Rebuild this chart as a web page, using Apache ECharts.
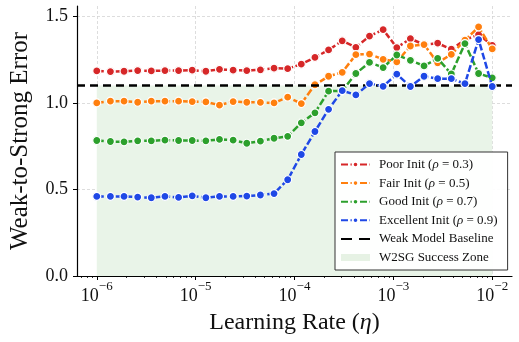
<!DOCTYPE html>
<html>
<head>
<meta charset="utf-8">
<script src="https://cdn.jsdelivr.net/npm/echarts@6/dist/echarts.min.js"></script>
<style>
html, body { margin: 0; padding: 0; background: #fff; }
#chart { width: 519px; height: 342px; }
</style>
</head>
<body>
<div id="chart"></div>
<script>
// 学习率（横轴，对数刻度）
var learningRates = [
    1.000e-6, 1.374e-6, 1.887e-6, 2.593e-6, 3.562e-6, 4.894e-6, 6.723e-6, 9.237e-6,
    1.269e-5, 1.743e-5, 2.395e-5, 3.290e-5, 4.520e-5, 6.210e-5, 8.532e-5,
    1.172e-4, 1.610e-4, 2.212e-4, 3.039e-4, 4.175e-4, 5.736e-4, 7.880e-4,
    1.083e-3, 1.487e-3, 2.043e-3, 2.807e-3, 3.857e-3, 5.298e-3, 7.279e-3, 1.000e-2
];
// 各初始化的误差
var poorInit = [
    1.185, 1.181, 1.183, 1.187, 1.185, 1.187, 1.187, 1.189, 1.183, 1.194,
    1.189, 1.187, 1.191, 1.201, 1.198, 1.224, 1.263, 1.306, 1.359, 1.321,
    1.386, 1.423, 1.320, 1.371, 1.337, 1.345, 1.310, 1.364, 1.395, 1.333
];
var fairInit = [
    1.000, 1.010, 1.010, 1.004, 1.010, 1.010, 1.010, 1.008, 1.006, 0.987,
    1.008, 1.004, 1.003, 1.000, 1.033, 0.996, 1.105, 1.154, 1.177, 1.279,
    1.282, 1.252, 1.237, 1.329, 1.337, 1.232, 1.280, 1.362, 1.439, 1.312
];
var goodInit = [
    0.783, 0.777, 0.775, 0.781, 0.781, 0.785, 0.783, 0.783, 0.781, 0.789,
    0.785, 0.767, 0.779, 0.796, 0.807, 0.885, 0.943, 1.068, 1.069, 1.170,
    1.234, 1.204, 1.277, 1.246, 1.214, 1.257, 1.167, 1.343, 1.170, 1.145
];
var excellentInit = [
    0.460, 0.460, 0.460, 0.456, 0.452, 0.460, 0.454, 0.463, 0.452, 0.460,
    0.460, 0.462, 0.468, 0.476, 0.556, 0.702, 0.835, 0.963, 1.071, 1.046,
    1.112, 1.096, 1.166, 1.095, 1.154, 1.140, 1.140, 1.111, 1.366, 1.095
];
var baseline = 1.1;
var seriesNames = [
    'Poor Init (ρ = 0.3)',
    'Fair Init (ρ = 0.5)',
    'Good Init (ρ = 0.7)',
    'Excellent Init (ρ = 0.9)'
];
var xTicks = [1e-6, 1e-5, 1e-4, 1e-3, 1e-2];
var yTicks = [0, 0.5, 1.0, 1.5];

var colors = ['#d62728', '#ff7f0e', '#2ca02c', '#1f48e6'];
var fontName = 'Liberation Serif';
var xMin = Math.pow(10, -6.2),
    xMax = Math.pow(10, -1.8);

// 次刻度 2..9 x 10^n
var minorTicks = [];
for (var e = -7; e <= -2; e++) {
    for (var k = 2; k <= 9; k++) {
        var v = k * Math.pow(10, e);
        if (v >= xMin && v <= xMax) minorTicks.push(v);
    }
}

function pairs(ys) {
    return ys.map(function (y, i) { return [learningRates[i], y]; });
}

var chart = echarts.init(document.getElementById('chart'));
var lineSeries = [poorInit, fairInit, goodInit, excellentInit].map(function (ys, i) {
    return {
        name: seriesNames[i],
        type: 'line',
        xAxisIndex: 0,
        data: pairs(ys),
        symbol: 'circle',
        symbolSize: 8,
        showSymbol: true,
        z: 3 + i,
        itemStyle: { color: colors[i], borderColor: '#fff', borderWidth: 1.2 },
        lineStyle: { color: colors[i], width: 2.5, type: [7, 2.5] }
    };
});

chart.setOption({
    animation: false,
    textStyle: { fontFamily: fontName },
    grid: { left: 74, right: 7, top: 6, bottom: 66, containLabel: false },
    legend: {
        orient: 'vertical',
        left: 335,
        top: 152,
        padding: [6, 10, 6, 5],
        itemWidth: 29,
        itemHeight: 7,
        itemGap: 5.6,
        selectedMode: false,
        backgroundColor: 'rgba(255,255,255,0.95)',
        borderColor: '#333',
        borderWidth: 1,
        borderRadius: 0,
        data: seriesNames.concat([
            { name: 'Weak Model Baseline', itemStyle: { opacity: 0 }, lineStyle: { type: [11, 7] } },
            { name: 'W2SG Success Zone', icon: 'rect' }
        ]),
        formatter: function (name) {
            return name.replace('ρ', '{i|ρ}');
        },
        textStyle: {
            fontFamily: fontName,
            fontSize: 13,
            lineHeight: 13,
            color: '#111',
            padding: [0, 0, 0, 4],
            rich: { i: { fontFamily: fontName, fontStyle: 'italic', fontSize: 13 } }
        }
    },
    xAxis: [{
        type: 'log',
        logBase: 10,
        min: xMin,
        max: xMax,
        name: '{n|Learning Rate (}{i|η}{n|)}',
        nameLocation: 'middle',
        nameGap: 35,
        nameTextStyle: {
            rich: {
                n: { fontFamily: fontName, fontSize: 24, color: '#111' },
                i: { fontFamily: fontName, fontSize: 24, fontStyle: 'italic', color: '#111' }
            }
        },
        axisLine: { show: true, lineStyle: { color: '#000', width: 1.2 } },
        axisTick: { show: true, length: 4, customValues: xTicks, lineStyle: { color: '#000', width: 1 } },
        axisLabel: {
            customValues: xTicks,
            margin: 5,
            formatter: function (value) {
                var p = Math.round(Math.log10(value));
                return '{b|10}{s|\u2212' + Math.abs(p) + '}';
            },
            rich: {
                b: { fontFamily: fontName, fontSize: 18, color: '#111', lineHeight: 24, verticalAlign: 'bottom' },
                s: { fontFamily: fontName, fontSize: 13, color: '#111', lineHeight: 13, padding: [0, 0, 12, 0], verticalAlign: 'bottom' }
            }
        },
        splitLine: { show: true, lineStyle: { color: '#d4d4d4', width: 0.8, type: [3, 2] } }
    }, {
        // 次刻度
        type: 'log',
        logBase: 10,
        min: xMin,
        max: xMax,
        position: 'bottom',
        axisLine: { show: false },
        axisTick: { show: true, length: 2, customValues: minorTicks, lineStyle: { color: '#000', width: 0.8 } },
        axisLabel: { show: false },
        splitLine: { show: false }
    }],
    yAxis: {
        type: 'value',
        min: 0,
        max: 1.56,
        name: 'Weak-to-Strong Error',
        nameLocation: 'middle',
        nameGap: 44,
        nameTextStyle: { fontFamily: fontName, fontSize: 25, color: '#111' },
        axisLine: { show: true, lineStyle: { color: '#000', width: 1.2 } },
        axisTick: { show: true, length: 4, customValues: yTicks, lineStyle: { color: '#000', width: 1 } },
        axisLabel: {
            customValues: yTicks,
            margin: 9,
            fontFamily: fontName,
            fontSize: 18,
            color: '#111',
            formatter: function (v) { return v.toFixed(1); }
        },
        splitLine: { show: true, lineStyle: { color: '#d4d4d4', width: 0.8, type: [3, 2] } }
    },
    series: lineSeries.concat([{
        name: 'Weak Model Baseline',
        type: 'line',
        data: [],
        symbol: 'none',
        z: 8,
        itemStyle: { color: '#000' },
        lineStyle: { color: '#000', width: 2.5, type: [8, 5] },
        markLine: {
            silent: true,
            symbol: ['none', 'none'],
            label: { show: false },
            lineStyle: { color: '#000', width: 2.5, type: [8, 5] },
            data: [{ yAxis: baseline }]
        }
    }, {
        name: 'W2SG Success Zone',
        type: 'line',
        data: [],
        symbol: 'none',
        z: -1,
        itemStyle: { color: '#e6f2e4' },
        lineStyle: { width: 0 },
        markArea: {
            silent: true,
            itemStyle: { color: '#e9f4e8' },
            data: [[
                { xAxis: learningRates[0], yAxis: 0 },
                { xAxis: learningRates[learningRates.length - 1], yAxis: baseline }
            ]]
        }
    }])
});
</script>
</body>
</html>
